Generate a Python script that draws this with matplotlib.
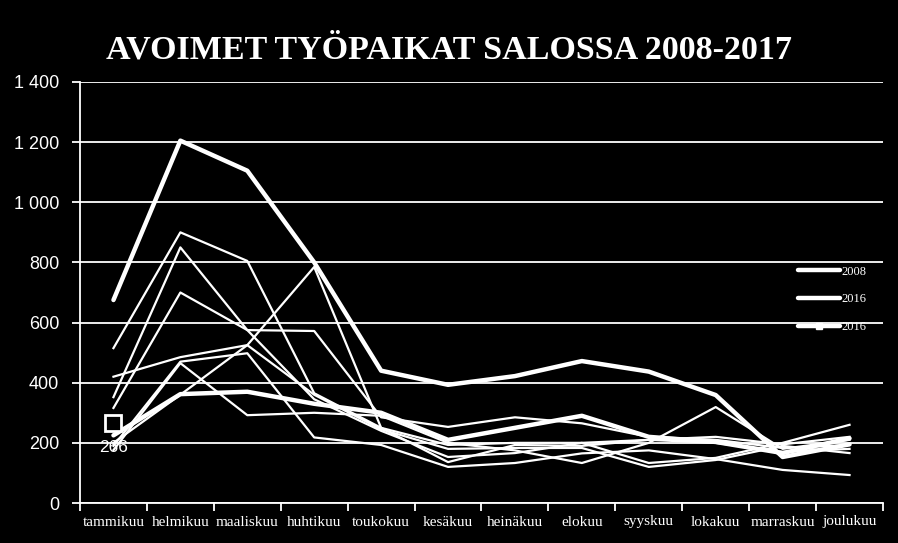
import numpy as np
import matplotlib
matplotlib.use("Agg")
import matplotlib.pyplot as plt
from matplotlib.lines import Line2D
from matplotlib.ticker import FuncFormatter, MultipleLocator

# kuukaudet
months = ['tammikuu', 'helmikuu', 'maaliskuu', 'huhtikuu', 'toukokuu', 'kesäkuu',
          'heinäkuu', 'elokuu', 'syyskuu', 'lokakuu', 'marraskuu', 'joulukuu']

# avoimet työpaikat vuosittain (luettu kuvasta)
y2008 = [675, 1205, 1105, 800, 440, 393, 422, 472, 437, 359, 153, 195]
y2009 = [515, 900, 805, 365, 250, 193, 200, 200, 210, 220, 195, 220]
y2010 = [352, 850, 575, 345, 240, 153, 166, 200, 133, 150, 200, 260]
y2011 = [316, 700, 575, 572, 285, 253, 285, 265, 220, 210, 183, 193]
y2012 = [420, 485, 525, 360, 245, 180, 183, 183, 120, 143, 190, 166]
y2013 = [176, 465, 292, 300, 290, 200, 175, 133, 200, 319, 180, 210]
y2014 = [200, 360, 525, 785, 250, 136, 193, 190, 210, 200, 170, 180]
y2015 = [190, 470, 498, 218, 193, 120, 133, 165, 175, 146, 110, 93]
y2016 = [225, 362, 370, 330, 300, 210, 250, 290, 220, 203, 166, 215]
y2017 = [266]

thin_years = [y2009, y2010, y2011, y2012, y2013, y2014, y2015]

fig = plt.figure(figsize=(8.98, 5.43), dpi=100, facecolor='black')
ax = fig.add_axes([80 / 898, 1 - 503 / 543, 803 / 898, 421 / 543])
ax.set_facecolor('black')

x = np.arange(len(months))

for vals in thin_years:
    ax.plot(x, vals, color='white', lw=1.6, zorder=3)

ax.plot(x, y2008, color='white', lw=3.2, zorder=4, solid_capstyle='round')
ax.plot(x, y2016, color='white', lw=3.2, zorder=4, solid_capstyle='round')
ax.plot(x[:len(y2017)], y2017, color='white', lw=3.2, marker='s', ms=11,
        mfc='black', mec='white', mew=2, zorder=5)
ax.text(0, y2017[0] - 58, str(y2017[0]), color='white', ha='center', va='top',
        fontsize=12.5, family='Liberation Sans', zorder=6)

# akselit
ax.set_xlim(-0.5, 11.5)
ax.set_ylim(0, 1400)
ax.yaxis.set_major_locator(MultipleLocator(200))
ax.yaxis.set_major_formatter(FuncFormatter(lambda v, p: f'{int(v):,}'.replace(',', ' ')))
ax.grid(axis='y', color='white', lw=1.3, zorder=1)
ax.set_axisbelow(True)

ax.set_xticks(x)
ax.set_xticklabels(months, family='Liberation Serif', fontsize=11, color='white')
ax.set_xticks(np.arange(-0.5, 12, 1), minor=True)
ax.tick_params(axis='x', which='major', length=0, pad=9)
ax.tick_params(axis='x', which='minor', length=6, color='white', width=1.3, direction='out')
ax.tick_params(axis='y', length=6, color='white', width=1.3, labelcolor='white',
               labelsize=13, pad=9)
for lbl in ax.get_yticklabels():
    lbl.set_family('Liberation Sans')

for side in ['top', 'right']:
    ax.spines[side].set_visible(False)
for side in ['left', 'bottom']:
    ax.spines[side].set_color('white')
    ax.spines[side].set_linewidth(1.3)

# selite
handles = [Line2D([], [], color='white', lw=3.2, solid_capstyle='round'),
           Line2D([], [], color='white', lw=3.2, solid_capstyle='round'),
           Line2D([], [], color='white', lw=3.2, marker='s', ms=5, mfc='white', mec='white',
                  solid_capstyle='round')]
leg = ax.legend(handles, ['2008', '2016', '2016'], loc='upper left',
                bbox_to_anchor=(0.88, 0.59), frameon=False, handlelength=3.4,
                labelspacing=1.25, handletextpad=0.1,
                prop={'family': 'Liberation Serif', 'size': 9})
for t in leg.get_texts():
    t.set_color('white')

fig.text(0.5, 1 - 50 / 543, 'AVOIMET TYÖPAIKAT SALOSSA 2008-2017', color='white',
         ha='center', va='center', fontsize=24.5, fontweight='bold', family='Liberation Serif')

fig.savefig('out.png', dpi=100, facecolor='black')
